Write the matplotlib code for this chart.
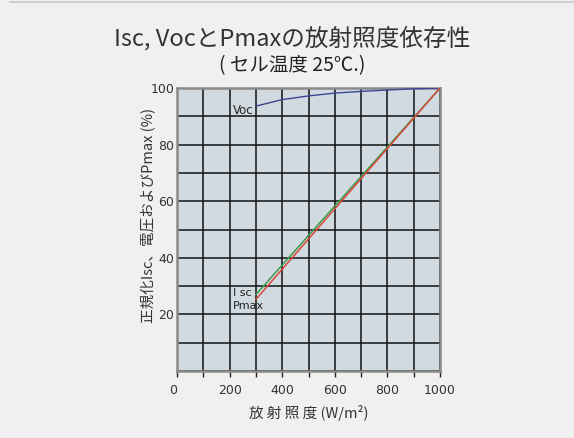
import matplotlib
matplotlib.use("Agg")
import matplotlib.pyplot as plt
from matplotlib.lines import Line2D

plt.rcParams['font.family'] = ['Noto Sans CJK JP', 'DejaVu Sans']

irr = [300, 400, 500, 600, 700, 800, 900, 1000]
voc = [93.6, 95.9, 97.2, 98.2, 98.8, 99.3, 99.7, 100.0]
isc_x = [300, 1000]
isc = [27.0, 100.0]
pmax_x = [300, 1000]
pmax = [25.3, 100.0]
xticks = [0, 200, 400, 600, 800, 1000]
yticks = [20, 40, 60, 80, 100]

title = "Isc, VocとPmaxの放射照度依存性"
subtitle = "( セル温度 25℃.)"
xlabel = "放 射 照 度 (W/m²)"
ylabel = "正規化Isc、電圧およびPmax (%)"

fig = plt.figure(figsize=(5.74, 4.38), dpi=100, facecolor='#eff0ef')
ax = fig.add_axes([177/574, 1-371/438, 263/574, 283/438])
ax.set_facecolor('#d1dae1')

ax.plot(irr, voc, color='#3f4494', lw=1.0, zorder=3)
ax.plot(isc_x, isc, color='#3a9a4a', lw=1.1, zorder=3)
ax.plot(pmax_x, pmax, color='#d9473a', lw=1.1, zorder=4)

ax.set_xlim(0, 1000)
ax.set_ylim(0, 100)
ax.grid(True, color='#111111', lw=1.1, zorder=1)
ax.set_axisbelow(True)
ax.tick_params(axis='x', direction='out', length=4, width=1, color='#222222',
               labelcolor='#333333', pad=5)
ax.tick_params(axis='y', length=0, labelcolor='#333333', pad=2)
ax.set_xticks(range(0, 1001, 100))
ax.set_xticklabels([str(v) if v in xticks else '' for v in range(0, 1001, 100)],
                   fontfamily='DejaVu Sans', fontsize=9)
ax.set_yticks(range(0, 101, 10))
ax.set_yticklabels([str(v) if v in yticks else '' for v in range(0, 101, 10)],
                   fontfamily='DejaVu Sans', fontsize=9)
for s in ax.spines.values():
    s.set_color('#8a8a8a')
    s.set_linewidth(1.8)
ax.get_xticklabels()[0].set_ha('right')

ax.text(291, 92.0, 'Voc', fontsize=8.5, color='#222222', ha='right', va='center',
        fontfamily='DejaVu Sans')
ax.text(212, 27.5, 'I sc', fontsize=8, color='#222222', ha='left', va='center',
        fontfamily='DejaVu Sans')
ax.text(212, 23.0, 'Pmax', fontsize=8, color='#222222', ha='left', va='center',
        fontfamily='DejaVu Sans')

ax.set_xlabel(xlabel, fontsize=10.5, color='#333333', labelpad=6)
ax.set_ylabel(ylabel, fontsize=10.5, color='#333333', va='center')
ax.yaxis.set_label_coords(-0.11, 0.551)

fig.text(292/574, 1-38/438, title, ha='center', va='center', fontsize=17, color='#333333')
fig.text(292/574, 1-66/438, subtitle, ha='center', va='center', fontsize=14, color='#222222')

fig.add_artist(Line2D([10/574, 1], [1-1.5/438, 1-1.5/438], color='#c8c8c8', lw=1.2))

fig.savefig('out.png', dpi=100, facecolor=fig.get_facecolor())
